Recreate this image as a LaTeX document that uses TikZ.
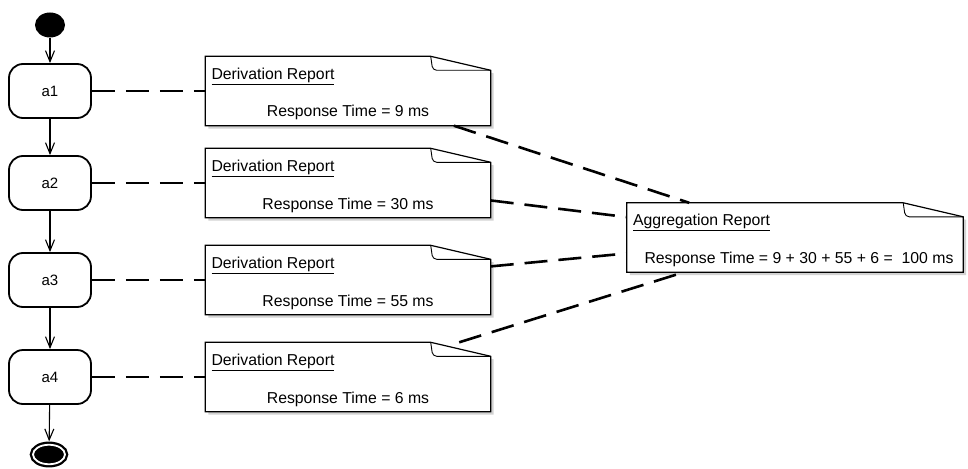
\documentclass[tikz,border=0pt]{standalone}
\usepackage{fontspec}
\setmainfont{Liberation Sans}
\usetikzlibrary{positioning,calc,shapes.geometric,arrows.meta,backgrounds,shadows}

\tikzset{
  activity/.style={draw, line width=1.8pt, rounded corners=14pt, minimum width=82pt,
    minimum height=54pt, inner sep=0pt, font=\fontsize{15}{18}\selectfont},
  notearea/.style={minimum width=285pt, minimum height=69pt, inner sep=0pt},
  notebox/.style={draw, line width=1.2pt, fill=white,
    drop shadow={shadow xshift=3pt, shadow yshift=-3pt, fill=black!35}},
  notefold/.style={draw, line width=0.9pt, rounded corners=4pt},
  notetext/.style={inner sep=0pt, font=\fontsize{15.8}{19}\selectfont},
  flow/.style={line width=1.1pt, -{Straight Barb[length=11pt,width=9pt,line width=1.1pt]}},
  link/.style={line width=2.6pt, dash pattern=on 23pt off 11pt},
}

\begin{document}
\begin{tikzpicture}[x=1pt,y=-1pt]
  \useasboundingbox (0,0) rectangle (968,468);

  % start and end
  \node[ellipse, fill=black, minimum width=30pt, minimum height=25pt, inner sep=0pt] (start) at (50,25) {};
  \node[ellipse, draw, fill=black, double=white, double distance=1.8pt, line width=2.3pt,
    minimum width=32pt, minimum height=19.5pt, inner sep=0pt, outer sep=3.4pt] (end) at (49,454.5) {};

  % activities and their reports
  \foreach \i/\y/\ms in {1/91/9,2/183/30,3/280/55,4/377/6} {
    \node[activity] (a\i) at (50,\y) {a\i};
    \node[notearea] (d\i) at (348,\y) {};
    \node[notetext, anchor=base west] (d\i-title) at ($(d\i.north west)+(6,23)$) {\underline{Derivation Report}};
    \node[notetext, anchor=base] (d\i-resp) at ($(d\i.center)+(0,26)$) {Response Time = \ms\ ms};
  }

  \node[notearea, minimum width=336pt] (agg) at (795,237.5) {};
  \node[notetext, anchor=base west] (agg-title) at ($(agg.north west)+(6,23)$) {\underline{Aggregation Report}};
  \node[notetext, anchor=base] (agg-resp) at ($(agg.center)+(4,25.5)$) {Response Time = 9 + 30 + 55 + 6 =\ \ 100 ms};

  % note outlines
  \begin{scope}[on background layer]
    \foreach \n in {d1,d2,d3,d4,agg} {
      \path[notebox] (\n.south west) -- (\n.north west) -- ($(\n.north east)+(-60,0)$)
        -- ($(\n.north east)+(0,14)$) -- (\n.south east) -- cycle;
      \path[notefold] ($(\n.north east)+(-60,0)$) -- ($(\n.north east)+(-58,14)$)
        -- ($(\n.north east)+(0,14)$);
    }
  \end{scope}

  % control flow
  \draw[flow] (start) -- (a1);
  \foreach \i/\j in {1/2,2/3,3/4} { \draw[flow] (a\i) -- (a\j); }
  \draw[flow] (a4) -- (end);

  % report links
  \foreach \i in {1,...,4} {
    \draw[link] (a\i) -- (d\i);
    \draw[link] (d\i) -- (agg);
  }
\end{tikzpicture}
\end{document}
